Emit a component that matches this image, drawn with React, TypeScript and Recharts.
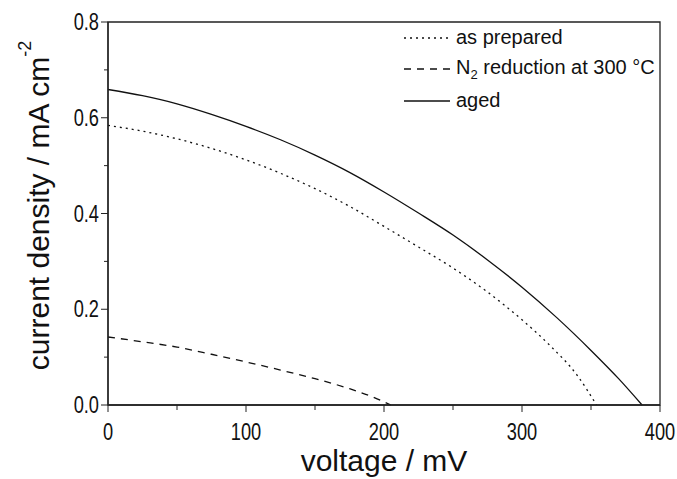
import { Label, Line, LineChart, ReferenceArea, XAxis, YAxis } from "recharts";

// voltage in mV, current density in mA cm-2
const asPrepared = [
  { v: 0, j: 0.584 },
  { v: 25, j: 0.572 },
  { v: 50, j: 0.556 },
  { v: 75, j: 0.536 },
  { v: 100, j: 0.512 },
  { v: 125, j: 0.484 },
  { v: 150, j: 0.452 },
  { v: 175, j: 0.415 },
  { v: 200, j: 0.373 },
  { v: 225, j: 0.33 },
  { v: 250, j: 0.286 },
  { v: 275, j: 0.236 },
  { v: 300, j: 0.178 },
  { v: 320, j: 0.125 },
  { v: 340, j: 0.062 },
  { v: 354, j: 0 },
];

const n2Reduction = [
  { v: 0, j: 0.142 },
  { v: 25, j: 0.132 },
  { v: 50, j: 0.121 },
  { v: 75, j: 0.106 },
  { v: 100, j: 0.09 },
  { v: 125, j: 0.073 },
  { v: 150, j: 0.055 },
  { v: 175, j: 0.034 },
  { v: 195, j: 0.013 },
  { v: 205, j: 0 },
];

const aged = [
  { v: 0, j: 0.659 },
  { v: 25, j: 0.646 },
  { v: 50, j: 0.629 },
  { v: 75, j: 0.607 },
  { v: 100, j: 0.582 },
  { v: 125, j: 0.554 },
  { v: 150, j: 0.522 },
  { v: 175, j: 0.486 },
  { v: 200, j: 0.445 },
  { v: 225, j: 0.401 },
  { v: 250, j: 0.355 },
  { v: 275, j: 0.303 },
  { v: 300, j: 0.246 },
  { v: 325, j: 0.183 },
  { v: 350, j: 0.114 },
  { v: 370, j: 0.055 },
  { v: 387, j: 0 },
];

// major ticks get labels, the ones in between are minor
const xTicks = [0, 50, 100, 150, 200, 250, 300, 350, 400];
const yTicks = [0, 0.1, 0.2, 0.3, 0.4, 0.5, 0.6, 0.7, 0.8];

const series = [
  { key: "prep", label: "as prepared", data: asPrepared, dash: "2 4" },
  { key: "n2", label: "N2 reduction at 300 °C", data: n2Reduction, dash: "7 6" },
  { key: "aged", label: "aged", data: aged, dash: undefined },
];

const FONT = "'Liberation Sans', Arial, sans-serif";
const AXIS = "#222";
const INK = "#111";

// tick digits in the original are tall and narrow
function TickText({ x, y, anchor, children }: any) {
  return (
    <text
      transform={`translate(${x},${y}) scale(0.76,1)`}
      textAnchor={anchor}
      fontSize={24}
      fontFamily={FONT}
      fill={INK}
    >
      {children}
    </text>
  );
}

function XTick({ x, y, payload }: any) {
  const v = payload.value as number;
  const major = v % 100 === 0;
  const len = major ? 7 : 5;
  return (
    <g>
      <line x1={x} y1={y} x2={x} y2={y + len} stroke={AXIS} />
      {major && (
        <TickText x={x} y={y + 35} anchor="middle">
          {v}
        </TickText>
      )}
    </g>
  );
}

function YTick({ x, y, payload }: any) {
  const v = payload.value as number;
  const major = Math.round(v * 10) % 2 === 0;
  const len = major ? 7 : 4;
  return (
    <g>
      <line x1={x - len} y1={y} x2={x} y2={y} stroke={AXIS} />
      {major && (
        <TickText x={x - 9} y={y + 8} anchor="end">
          {v.toFixed(1)}
        </TickText>
      )}
    </g>
  );
}

function LegendBox() {
  return (
    <div style={{ position: "absolute", left: 404, top: 22, fontFamily: FONT, fontSize: 20, color: INK }}>
      {series.map((s) => (
        <div key={s.key} style={{ display: "flex", alignItems: "center", height: 31.5 }}>
          <svg width={46} height={10} style={{ marginRight: 6 }}>
            <line x1={0} y1={5} x2={46} y2={5} stroke={INK} strokeWidth={1.3} strokeDasharray={s.dash} />
          </svg>
          {s.key === "n2" ? (
            <span>
              N<sub style={{ fontSize: 13, verticalAlign: -5 }}>2</sub> reduction at 300 °C
            </span>
          ) : (
            <span>{s.label}</span>
          )}
        </div>
      ))}
    </div>
  );
}

export default function App() {
  return (
    <div style={{ position: "fixed", left: 0, top: 0, width: 677, height: 479, background: "#fff" }}>
      <LineChart width={677} height={479} margin={{ top: 22, right: 17, bottom: 0, left: 0 }}>
        <XAxis
          dataKey="v"
          type="number"
          domain={[0, 400]}
          ticks={xTicks}
          interval={0}
          height={74}
          tickSize={0}
          tickMargin={0}
          axisLine={{ stroke: AXIS, strokeWidth: 1.3 }}
          tickLine={false}
          tick={<XTick />}
        >
          <Label
            content={({ viewBox }: any) => (
              <text
                x={viewBox.x + viewBox.width / 2}
                y={471}
                textAnchor="middle"
                fontSize={30}
                fontFamily={FONT}
                fill={INK}
              >
                voltage / mV
              </text>
            )}
          />
        </XAxis>
        <YAxis
          type="number"
          domain={[0, 0.8]}
          ticks={yTicks}
          interval={0}
          width={108}
          tickSize={0}
          tickMargin={0}
          axisLine={{ stroke: AXIS, strokeWidth: 1.3 }}
          tickLine={false}
          tick={<YTick />}
        >
          <Label
            content={({ viewBox }: any) => {
              const cx = 38;
              const cy = viewBox.y + viewBox.height / 2 - 8;
              return (
                <text
                  x={cx}
                  y={cy}
                  transform={`rotate(-90, ${cx}, ${cy})`}
                  textAnchor="middle"
                  dominantBaseline="central"
                  fontSize={30}
                  fontFamily={FONT}
                  fill={INK}
                >
                  current density / mA cm
                  <tspan fontSize={18} dy={-13}>
                    -2
                  </tspan>
                </text>
              );
            }}
          />
        </YAxis>
        <ReferenceArea
          x1={0}
          x2={400}
          y1={0}
          y2={0.8}
          fill="none"
          stroke={AXIS}
          strokeWidth={1.3}
          ifOverflow="visible"
        />
        {series.map((s) => (
          <Line
            key={s.key}
            data={s.data}
            dataKey="j"
            type="monotone"
            stroke={INK}
            strokeWidth={1.3}
            strokeDasharray={s.dash}
            dot={false}
            activeDot={false}
            isAnimationActive={false}
          />
        ))}
      </LineChart>
      <LegendBox />
    </div>
  );
}
